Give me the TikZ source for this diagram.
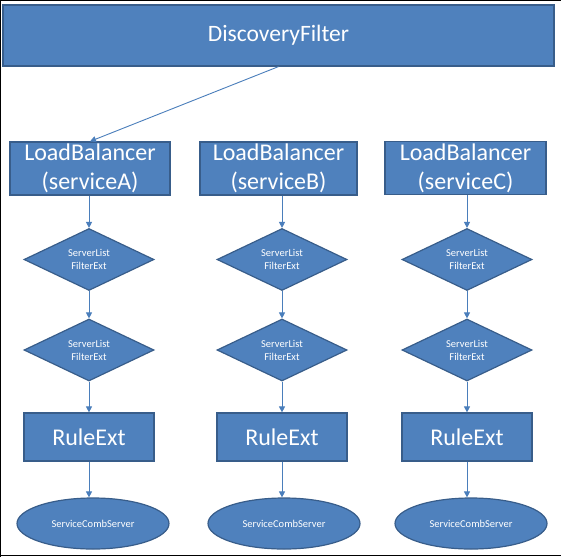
\documentclass[tikz,border=0pt]{standalone}
\usepackage{fontspec}
\setmainfont{Carlito}
\usetikzlibrary{shapes.geometric,arrows.meta}
\definecolor{boxfill}{HTML}{4F81BD}
\definecolor{boxline}{HTML}{385D8A}
\definecolor{arrowc}{HTML}{4A7EBB}
\tikzset{
  box/.style={draw=boxline, fill=boxfill, line width=1.2pt, text=white, inner sep=0pt, align=center},
  bigtext/.style={font=\fontsize{24}{29}\selectfont},
  smalltext/.style={font=\fontsize{10.5}{13}\selectfont},
  dia/.style={box, diamond, smalltext, minimum width=130pt, minimum height=53pt},
  ell/.style={box, ellipse, smalltext, minimum width=152pt, minimum height=51pt},
  conn/.style={draw=arrowc, line width=0.9pt, -{Triangle[width=6pt,length=6pt]}},
}
\begin{document}
\begin{tikzpicture}[x=1pt,y=-1pt]
\useasboundingbox (0,0) rectangle (561,557);
\fill[white] (0,0) rectangle (561,557);
\draw[black, line width=1pt] (0.5,557) -- (0.5,0.5) -- (561,0.5);
\draw[black, line width=1pt] (0,555) -- (561,555);

\node[box, font=\fontsize{23.5}{28}\selectfont, minimum width=551pt, minimum height=61pt] (df) at (278.5,35.5) {DiscoveryFilter};

\node[box, bigtext, minimum width=160pt, minimum height=53pt] (lbA) at (90,168.5) {LoadBalancer\\(serviceA)};
\node[box, bigtext, minimum width=157pt, minimum height=53pt] (lbB) at (278.5,168.5) {LoadBalancer\\(serviceB)};
\node[box, bigtext, minimum width=161pt, minimum height=53pt] (lbC) at (465.5,168) {LoadBalancer\\(serviceC)};

\node[dia] (dA1) at (89,259.5) {ServerList\\FilterExt};
\node[dia] (dB1) at (282,259.5) {ServerList\\FilterExt};
\node[dia] (dC1) at (467,259.5) {ServerList\\FilterExt};
\node[dia] (dA2) at (89,350) {ServerList\\FilterExt};
\node[dia] (dB2) at (282,350) {ServerList\\FilterExt};
\node[dia] (dC2) at (467,350) {ServerList\\FilterExt};

\node[box, bigtext, minimum width=130pt, minimum height=48pt] (rA) at (89,437) {RuleExt};
\node[box, bigtext, minimum width=130pt, minimum height=48pt] (rB) at (282,437) {RuleExt};
\node[box, bigtext, minimum width=130pt, minimum height=48pt] (rC) at (467,437) {RuleExt};

\node[ell] (eA) at (93,523.5) {ServiceCombServer};
\node[ell] (eB) at (284,523.5) {ServiceCombServer};
\node[ell] (eC) at (471,523.5) {ServiceCombServer};

\draw[conn] (df.south) -- (lbA.north);
\foreach \c in {A,B,C}{
  \draw[conn] (d\c1.north |- lb\c.south) -- (d\c1.north);
  \draw[conn] (d\c1.south) -- (d\c2.north);
  \draw[conn] (d\c2.south) -- (r\c.north);
  \draw[conn] (r\c.south) -- (r\c.south |- e\c.north);
}
\end{tikzpicture}
\end{document}
